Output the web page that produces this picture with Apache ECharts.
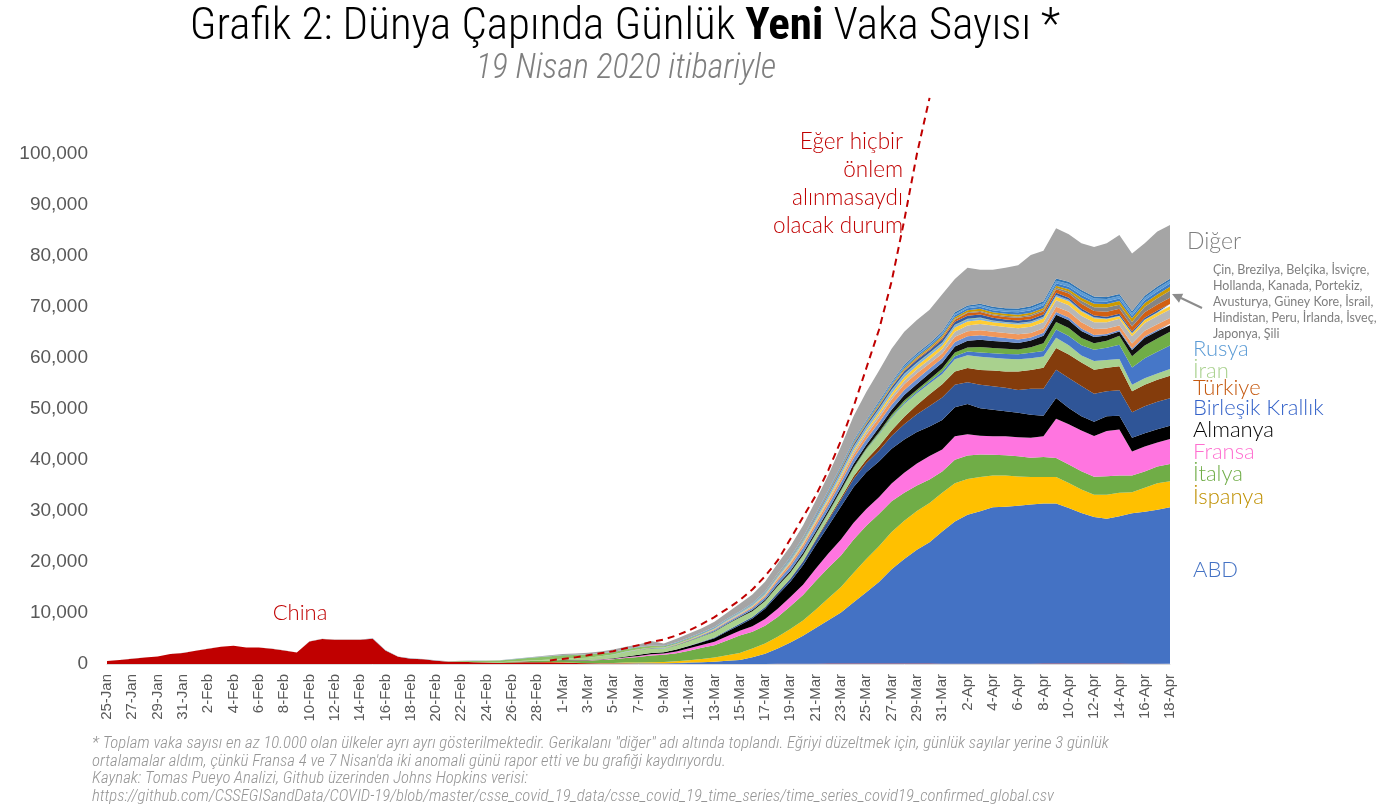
<!DOCTYPE html>
<html>
<head>
<meta charset="utf-8">
<script src="https://cdn.jsdelivr.net/npm/echarts@6/dist/echarts.min.js"></script>
<style>
  html, body { margin: 0; padding: 0; background: #fff; }
  #main { width: 1400px; height: 811px; }
</style>
</head>
<body>
<div id="main"></div>
<script>
// tarih etiketleri
var dates = [
  '25-Jan','26-Jan','27-Jan','28-Jan','29-Jan','30-Jan','31-Jan',
  '1-Feb','2-Feb','3-Feb','4-Feb','5-Feb','6-Feb','7-Feb','8-Feb','9-Feb','10-Feb',
  '11-Feb','12-Feb','13-Feb','14-Feb','15-Feb','16-Feb','17-Feb','18-Feb','19-Feb','20-Feb',
  '21-Feb','22-Feb','23-Feb','24-Feb','25-Feb','26-Feb','27-Feb','28-Feb','29-Feb',
  '1-Mar','2-Mar','3-Mar','4-Mar','5-Mar','6-Mar','7-Mar','8-Mar','9-Mar','10-Mar',
  '11-Mar','12-Mar','13-Mar','14-Mar','15-Mar','16-Mar','17-Mar','18-Mar','19-Mar','20-Mar',
  '21-Mar','22-Mar','23-Mar','24-Mar','25-Mar','26-Mar','27-Mar','28-Mar','29-Mar','30-Mar','31-Mar',
  '1-Apr','2-Apr','3-Apr','4-Apr','5-Apr','6-Apr','7-Apr','8-Apr','9-Apr','10-Apr',
  '11-Apr','12-Apr','13-Apr','14-Apr','15-Apr','16-Apr','17-Apr','18-Apr'
];

// günlük yeni vaka (3 günlük ortalama)
var china = [
  600,770,1050,1260,1470,1960,2170,2590,3010,3360,
  3570,3220,3220,3010,2660,2240,4410,4900,4760,4760,
  4760,4970,2660,1400,1050,910,630,420,420,350,
  280,210,300,350,350,350,300,200,130,120,
  120,110,60,50,40,25,20,15,15,15,
  20,20,20,30,40,50,60,80,90,90,
  90,100,100,100,90,80,60,60,60,60,
  50,50,50,60,80,80,100,100,100,90,
  80,60,50,40,30];
var abd = [
  0,0,0,0,0,0,0,0,0,0,
  0,0,0,0,0,0,0,0,0,0,
  0,0,0,0,0,0,0,0,0,0,
  0,0,5,5,5,10,10,15,20,30,
  40,60,80,100,110,150,250,350,450,600,
  750,1300,2000,3000,4200,5500,7000,8500,10000,12000,
  14000,16000,18500,20500,22300,23800,25900,27900,29200,29900,
  30700,30800,31000,31200,31400,31400,30500,29500,28700,28400,
  28900,29500,29800,30200,30700];
var ispanya = [
  0,0,0,0,0,0,0,0,0,0,
  0,0,0,0,0,0,0,0,0,0,
  0,0,0,0,0,0,0,0,0,0,
  0,0,0,5,10,10,10,15,20,40,
  60,100,150,200,250,350,450,600,800,1100,
  1400,1700,2000,2300,2600,3000,3600,4300,5000,5800,
  6500,7000,7300,7500,7600,7700,7600,7500,7000,6700,
  6200,6100,5700,5400,5200,5200,4900,4600,4400,4700,
  4600,4100,4700,5200,5100];
var italya = [
  0,0,0,0,0,0,0,0,0,0,
  0,0,0,0,0,0,0,0,0,0,
  0,0,0,0,0,0,0,0,30,50,
  80,100,150,200,250,300,400,450,500,600,
  700,900,1100,1300,1400,1600,1900,2200,2400,2900,
  3400,3300,3500,3900,4500,5000,5600,6000,6200,6500,
  6500,6300,6000,5500,5000,4600,4200,4600,4600,4400,
  4100,4000,4000,3800,3900,3700,3600,3600,3500,3600,
  3400,3300,3200,3300,3400];
var fransa = [
  0,0,0,0,0,0,0,0,0,0,
  0,0,0,0,0,0,0,0,0,0,
  0,0,0,0,0,0,0,0,0,0,
  0,0,5,10,15,20,30,50,60,80,
  100,150,200,250,250,350,450,550,700,850,
  950,1100,1300,1600,1800,2000,2400,2800,3100,3300,
  3300,3300,3500,3900,4300,4600,4300,4600,4200,3700,
  3600,3700,3700,3900,4100,7700,7900,8000,8000,8900,
  9000,4700,4900,4700,4900];
var almanya = [
  0,0,0,0,0,0,0,0,0,0,
  0,0,0,0,0,0,0,0,0,0,
  0,0,0,0,0,0,0,0,0,0,
  0,0,5,10,15,20,30,40,50,80,
  100,150,200,250,250,350,450,550,700,900,
  1100,1500,2000,2700,3000,3800,4600,5400,6500,7000,
  7200,7000,6800,6500,6200,5800,5800,5700,5900,5400,
  5200,4900,4800,4500,4000,4100,3200,2800,2800,2900,
  2700,2700,2600,2600,2600];
var ingiltere = [
  0,0,0,0,0,0,0,0,0,0,
  0,0,0,0,0,0,0,0,0,0,
  0,0,0,0,0,0,0,0,0,0,
  0,0,0,0,0,0,0,0,0,0,
  0,0,0,10,20,40,60,100,150,200,
  250,300,350,450,550,700,900,1100,1300,1600,
  1800,2100,2500,3000,3500,4000,4400,4400,4300,4600,
  4600,4600,4500,5100,5300,5500,5900,5900,5500,4900,
  5000,5000,5300,5400,5400];
var turkiye = [
  0,0,0,0,0,0,0,0,0,0,
  0,0,0,0,0,0,0,0,0,0,
  0,0,0,0,0,0,0,0,0,0,
  0,0,0,0,0,0,0,0,0,0,
  0,0,0,0,0,0,0,0,0,0,
  0,0,10,30,60,100,200,300,400,500,
  650,900,1100,1500,1800,2300,2600,2600,2800,2900,
  3100,3200,3600,3700,4100,4300,4600,4600,4700,4600,
  4700,4100,4200,4300,4400];
var iran = [
  0,0,0,0,0,0,0,0,0,0,
  0,0,0,0,0,0,0,0,0,0,
  0,0,0,0,0,0,0,0,0,5,
  10,20,40,60,100,150,250,350,450,550,
  700,900,1000,900,700,800,900,1000,1100,1200,
  1200,1100,1100,1200,1100,1100,1000,1000,1200,1500,
  1900,2300,2500,2500,2300,2100,2000,2400,2500,2600,
  2500,2500,2400,2300,2200,2000,1800,1400,1700,1500,
  1400,1300,1300,1200,1300];
var rusya = [
  0,0,0,0,0,0,0,0,0,0,
  0,0,0,0,0,0,0,0,0,0,
  0,0,0,0,0,0,0,0,0,0,
  0,0,0,0,0,0,0,0,0,0,
  0,0,0,0,0,0,0,0,0,0,
  0,5,10,10,10,20,40,60,60,60,
  100,150,200,250,300,400,500,600,700,800,
  900,950,1000,1050,1100,1600,1800,2000,2200,2400,
  2800,3400,3900,4300,4600];

// küçük ülkeler
var brezilya = [
  0,0,0,0,0,0,0,0,0,0, 0,0,0,0,0,0,0,0,0,0, 0,0,0,0,0,0,0,0,0,0, 0,0,0,0,0,0,0,0,0,0,
  0,0,0,0,5,5,10,10,15,20,
  30,40,50,60,80,120,150,200,250,250,
  250,300,350,400,400,450,600,700,800,1100,
  1000,1000,900,1100,1500,1500,1600,1400,1300,1400,
  1800,2200,2500,2600,2700];
var belcika = [
  0,0,0,0,0,0,0,0,0,0, 0,0,0,0,0,0,0,0,0,0, 0,0,0,0,0,0,0,0,0,0, 0,0,0,0,0,0,0,0,0,0,
  0,0,10,20,30,40,50,60,80,100,
  150,200,250,300,350,400,450,500,550,650,
  700,900,1000,1100,1100,1200,1100,1200,1300,1400,
  1400,1400,1300,1300,1500,1400,1500,1400,1200,1000,
  800,1200,1500,1400,1300];
var isvicre = [
  0,0,0,0,0,0,0,0,0,0, 0,0,0,0,0,0,0,0,0,0, 0,0,0,0,0,0,0,0,0,0,
  0,0,0,0,0,2,5,8,10,15,
  20,30,40,50,60,80,120,180,250,300,
  300,400,500,700,900,1000,1000,1000,1000,1100,
  1100,1000,1000,1000,1000,900,900,900,900,900,
  800,700,700,600,550,550,550,500,400,300,
  300,300,300,300,300];
var hollanda = [
  0,0,0,0,0,0,0,0,0,0, 0,0,0,0,0,0,0,0,0,0, 0,0,0,0,0,0,0,0,0,0,
  0,0,0,0,0,2,3,5,8,10,
  10,20,30,40,50,60,80,100,130,150,
  180,250,300,400,500,550,600,600,650,700,
  800,900,1000,1100,1100,1000,900,1000,1000,1000,
  1000,1000,1000,900,900,1000,1100,1200,1200,1100,
  900,1000,1100,1100,1100];
var kanada = [
  0,0,0,0,0,0,0,0,0,0, 0,0,0,0,0,0,0,0,0,0, 0,0,0,0,0,0,0,0,0,0, 0,0,0,0,0,0,0,0,0,0,
  5,5,10,10,10,15,20,30,40,50,
  60,80,100,150,200,200,250,300,400,500,
  600,600,600,700,800,800,900,1000,1100,1200,
  1200,1200,1200,1200,1200,1300,1300,1300,1300,1200,
  1300,1400,1500,1600,1700];
var portekiz = [
  0,0,0,0,0,0,0,0,0,0, 0,0,0,0,0,0,0,0,0,0, 0,0,0,0,0,0,0,0,0,0, 0,0,0,0,0,0,0,0,0,0,
  0,0,0,0,10,10,15,20,30,40,
  50,70,100,150,200,250,300,350,400,400,
  400,500,600,700,700,700,700,800,800,800,
  650,650,700,700,700,700,800,800,800,600,
  500,500,600,600,600];
var avusturya = [
  0,0,0,0,0,0,0,0,0,0, 0,0,0,0,0,0,0,0,0,0, 0,0,0,0,0,0,0,0,0,0, 0,0,0,0,0,0,0,0,0,0,
  5,10,10,20,30,40,50,80,100,130,
  150,200,250,300,350,400,450,600,600,600,
  600,600,600,550,500,500,500,450,450,400,
  300,250,250,300,300,300,250,200,150,120,
  100,100,100,100,100];
var guneyKore = [
  0,0,0,0,0,0,0,0,0,0, 0,0,0,0,0,0,0,0,0,0,
  0,0,0,0,0,0,30,60,120,200,
  250,350,400,500,600,650,700,650,600,550,
  450,450,400,350,250,200,180,150,120,110,
  90,80,80,90,100,110,100,100,90,80,
  90,100,110,110,100,100,90,90,90,80,
  70,60,50,50,40,40,30,30,30,25,
  25,20,20,15,15];
var israil = [
  0,0,0,0,0,0,0,0,0,0, 0,0,0,0,0,0,0,0,0,0, 0,0,0,0,0,0,0,0,0,0, 0,0,0,0,0,0,0,0,0,0,
  0,0,0,0,0,5,10,10,15,20,
  25,30,40,50,80,120,150,200,300,400,
  400,450,500,500,500,500,600,600,600,600,
  500,500,500,450,450,400,400,400,350,350,
  350,300,300,350,350];
var hindistan = [
  0,0,0,0,0,0,0,0,0,0, 0,0,0,0,0,0,0,0,0,0, 0,0,0,0,0,0,0,0,0,0, 0,0,0,0,0,0,0,0,0,0,
  5,5,5,5,5,5,5,10,10,10,
  10,15,15,20,25,40,60,70,80,90,
  90,90,100,150,200,200,250,400,500,500,
  500,500,550,600,600,700,800,900,900,1000,
  1000,1000,1100,1200,1200];
var peru = [
  0,0,0,0,0,0,0,0,0,0, 0,0,0,0,0,0,0,0,0,0, 0,0,0,0,0,0,0,0,0,0, 0,0,0,0,0,0,0,0,0,0,
  0,0,0,0,0,0,0,5,5,10,
  10,15,20,25,30,30,40,50,60,60,
  60,70,80,90,100,100,100,150,150,200,
  200,200,200,250,300,300,400,600,700,800,
  800,900,1100,1200,1400];
var irlanda = [
  0,0,0,0,0,0,0,0,0,0, 0,0,0,0,0,0,0,0,0,0, 0,0,0,0,0,0,0,0,0,0, 0,0,0,0,0,0,0,0,0,0,
  0,0,0,0,5,5,10,10,15,20,
  25,30,40,60,80,100,120,150,180,200,
  200,250,250,300,300,300,350,350,400,400,
  400,400,400,400,400,400,450,600,700,700,
  700,700,700,750,800];
var isvec = [
  0,0,0,0,0,0,0,0,0,0, 0,0,0,0,0,0,0,0,0,0, 0,0,0,0,0,0,0,0,0,0,
  0,0,0,0,0,2,3,5,10,15,
  20,30,40,60,80,100,120,100,100,100,
  100,100,100,100,100,120,150,200,200,200,
  200,250,250,300,300,300,350,400,400,400,
  400,400,450,500,500,500,500,500,500,500,
  500,500,550,600,600];
var japonya = [
  0,0,1,1,2,2,2,3,3,3,
  3,3,3,3,5,5,5,5,10,10,
  10,10,15,15,15,15,15,15,20,20,
  20,20,20,25,25,30,30,30,30,30,
  30,30,30,35,35,40,40,40,40,40,
  40,40,40,40,40,40,50,50,60,70,
  80,90,100,120,150,150,200,250,250,300,
  350,350,400,400,400,500,550,600,550,500,
  500,500,500,550,550];
var sili = [
  0,0,0,0,0,0,0,0,0,0, 0,0,0,0,0,0,0,0,0,0, 0,0,0,0,0,0,0,0,0,0, 0,0,0,0,0,0,0,0,0,0,
  0,0,0,0,0,0,5,5,10,15,
  20,30,40,50,80,100,150,150,180,200,
  200,250,250,300,300,300,300,300,300,300,
  350,350,350,400,400,400,400,400,400,400,
  400,400,400,400,400];
var diger = [
  5,5,5,10,5,10,10,10,10,10,
  10,10,10,10,20,30,40,30,40,50,
  50,60,70,80,70,50,40,30,40,40,
  30,40,50,80,120,150,200,250,300,350,
  500,450,450,850,450,700,800,850,1000,1150,
  1500,1700,1900,2000,2100,2300,2600,3000,3800,4800,
  5500,6000,6500,6500,6500,6600,7300,6550,7400,6650,
  7250,7950,8500,10050,9900,9850,9350,9150,9700,10500,
  11550,11300,10300,10800,10550];

// önlem alınmasaydı senaryosu (kesikli çizgi)
var senaryo = [
  null,null,null,null,null,null,null,null,null,null,
  null,null,null,null,null,null,null,null,null,null,
  null,null,null,null,null,null,null,null,null,null,
  null,null,null,null,null,700,1000,1300,1700,2100,
  2500,3100,3700,4300,4800,5600,6600,7800,9200,10800,
  12500,14600,17200,20300,24500,28800,33000,38000,43800,50500,
  58000,65500,75000,87000,100000,111000,null,null,null,null,
  null,null,null,null,null,null,null,null,null,null,
  null,null,null,null,null];

var yTicks = [0, 10000, 20000, 30000, 40000, 50000, 60000, 70000, 80000, 90000, 100000];

// yığın sırası: alttan üste
var stackList = [
  ['China', china, '#C00000'],
  ['ABD', abd, '#4472C4'],
  ['İspanya', ispanya, '#FFC000'],
  ['İtalya', italya, '#70AD47'],
  ['Fransa', fransa, '#FF75E0'],
  ['Almanya', almanya, '#000000'],
  ['Birleşik Krallık', ingiltere, '#2F5597'],
  ['Türkiye', turkiye, '#843C0C'],
  ['İran', iran, '#A9D18E'],
  ['Rusya', rusya, '#4677C8'],
  ['Brezilya', brezilya, '#70AD47'],
  ['Belçika', belcika, '#111111'],
  ['İsviçre', isvicre, '#698ED0'],
  ['Hollanda', hollanda, '#F1975A'],
  ['Kanada', kanada, '#B7B7B7'],
  ['Portekiz', portekiz, '#FFCD33'],
  ['Avusturya', avusturya, '#7CAFDD'],
  ['Güney Kore', guneyKore, '#8CC168'],
  ['İsrail', israil, '#335AA1'],
  ['Hindistan', hindistan, '#D26012'],
  ['Peru', peru, '#848484'],
  ['İrlanda', irlanda, '#CC9A00'],
  ['İsveç', isvec, '#3C7DC4'],
  ['Japonya', japonya, '#5B9BD5'],
  ['Şili', sili, '#2E75B6'],
  ['Diğer', diger, '#A5A5A5']
];

var NARROW = "'Roboto Condensed', 'DejaVu Sans Condensed', 'Liberation Sans', sans-serif";
var LIGHT = "Lato, 'Noto Sans', sans-serif";
var SANS = "'Liberation Sans', Arial, sans-serif";

var series = stackList.map(function (s) {
  return {
    name: s[0],
    type: 'line',
    stack: 'toplam',
    data: s[1],
    symbol: 'none',
    lineStyle: { width: 0 },
    areaStyle: { color: s[2], opacity: 1 },
    itemStyle: { color: s[2] },
    emphasis: { disabled: true },
    silent: true
  };
});
series.push({
  name: 'Senaryo',
  type: 'line',
  data: senaryo,
  symbol: 'none',
  clip: false,
  z: 10,
  lineStyle: { color: '#C00000', width: 2, type: [7, 5] },
  silent: true
});

var labels = [
  ['Rusya', 349, '#5B9BD5'],
  ['İran', 371, '#A9D18E'],
  ['Türkiye', 388, '#C55A11'],
  ['Birleşik Krallık', 408, '#3563C9'],
  ['Almanya', 430, '#000000'],
  ['Fransa', 452, '#FF6FD0'],
  ['İtalya', 474, '#70AD47'],
  ['İspanya', 497, '#BF9000'],
  ['ABD', 570, '#4472C4']
];

var graphics = labels.map(function (l) {
  return {
    type: 'text', x: 1193, y: l[1],
    style: { text: l[0], fill: l[2], font: '300 22px ' + LIGHT, textAlign: 'left', textVerticalAlign: 'middle' }
  };
});
graphics.push(
  { type: 'text', x: 1187, y: 242,
    style: { text: 'Diğer', fill: '#7F7F7F', font: '300 23px ' + LIGHT, textAlign: 'left', textVerticalAlign: 'middle' } },
  { type: 'text', x: 1213, y: 262,
    style: { text: 'Çin, Brezilya, Belçika, İsviçre,\nHollanda, Kanada, Portekiz,\nAvusturya, Güney Kore, İsrail,\nHindistan, Peru, İrlanda, İsveç,\nJaponya, Şili',
      fill: '#7F7F7F', font: '12.5px ' + LIGHT, lineHeight: 16, textAlign: 'left', textVerticalAlign: 'top' } },
  { type: 'line', shape: { x1: 1202, y1: 308, x2: 1181, y2: 298 }, style: { stroke: '#8C8C8C', lineWidth: 2 } },
  { type: 'polygon', shape: { points: [[1172, 294], [1183.2, 293.7], [1179, 302.7]] }, style: { fill: '#8C8C8C' } },
  { type: 'text', x: 903, y: 128,
    style: { text: 'Eğer hiçbir\nönlem\nalınmasaydı\nolacak durum', fill: '#C00000', font: '300 22.5px ' + LIGHT,
      lineHeight: 28, textAlign: 'right', textVerticalAlign: 'top' } },
  { type: 'text', x: 300, y: 613,
    style: { text: 'China', fill: '#C00000', font: '300 22px ' + LIGHT, textAlign: 'center', textVerticalAlign: 'middle' } },
  { type: 'text', x: 92, y: 735,
    style: { text: '* Toplam vaka sayısı en az 10.000 olan ülkeler ayrı ayrı gösterilmektedir. Gerikalanı "diğer" adı altında toplandı. Eğriyi düzeltmek için, günlük sayılar yerine 3 günlük\nortalamalar aldım, çünkü Fransa 4 ve 7 Nisan\'da iki anomali günü rapor etti ve bu grafiği kaydırıyordu.\nKaynak: Tomas Pueyo Analizi, Github üzerinden Johns Hopkins verisi:\nhttps://github.com/CSSEGISandData/COVID-19/blob/master/csse_covid_19_data/csse_covid_19_time_series/time_series_covid19_confirmed_global.csv',
      fill: '#959595', font: 'italic 300 16.8px ' + NARROW, lineHeight: 17.7, textAlign: 'left', textVerticalAlign: 'top' } }
);

var chart = echarts.init(document.getElementById('main'));
chart.setOption({
  animation: false,
  backgroundColor: '#fff',
  title: [
    {
      text: '{a|Grafik 2: Dünya Çapında Günlük }{b|Yeni}{a| Vaka Sayısı *}',
      left: 620, top: 0, textAlign: 'center',
      textStyle: {
        rich: {
          a: { fontSize: 45, fontFamily: NARROW, color: '#000', fontWeight: 300 },
          b: { fontSize: 45, fontFamily: NARROW, color: '#000', fontWeight: 'bold' }
        }
      }
    },
    {
      text: '19 Nisan 2020 itibariyle',
      left: 621, top: 47, textAlign: 'center',
      textStyle: { fontSize: 34, fontFamily: NARROW, fontStyle: 'italic', fontWeight: 300, color: '#7F7F7F' }
    }
  ],
  grid: { left: 107, right: 230, top: 154, bottom: 147 },
  xAxis: {
    type: 'category',
    data: dates,
    boundaryGap: false,
    axisLine: { lineStyle: { color: '#D9D9D9', width: 1 } },
    axisTick: { show: false },
    axisLabel: { interval: 1, rotate: 90, fontSize: 15, color: '#595959', fontFamily: SANS, margin: 10 }
  },
  yAxis: {
    type: 'value',
    min: yTicks[0],
    max: yTicks[yTicks.length - 1],
    interval: yTicks[1] - yTicks[0],
    axisLine: { show: false },
    axisTick: { show: false },
    splitLine: { show: false },
    axisLabel: {
      fontSize: 19, color: '#595959', fontFamily: SANS, margin: 19,
      formatter: function (v) { return v.toLocaleString('en-US'); }
    }
  },
  series: series,
  graphic: graphics
});
</script>
</body>
</html>
